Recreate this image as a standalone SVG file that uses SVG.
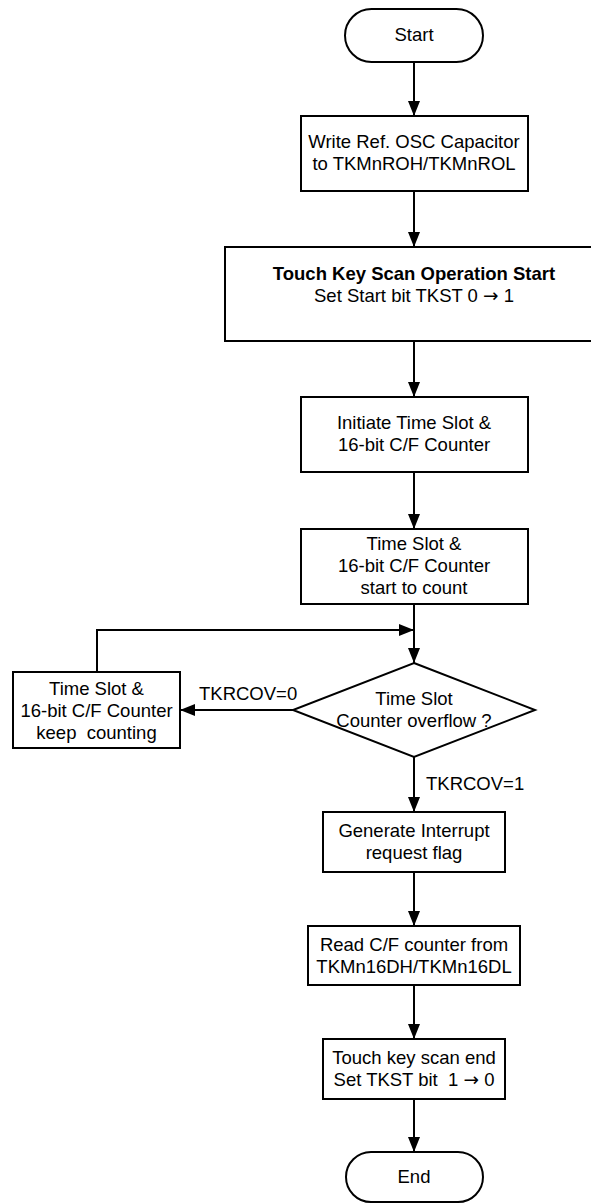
<svg xmlns="http://www.w3.org/2000/svg" width="591" height="1203" viewBox="0 0 591 1203">
<style>
.s{fill:#fff;stroke:#000;stroke-width:2}
.c{fill:none;stroke:#000;stroke-width:2}
text{font-family:"Liberation Sans",Arial,sans-serif;font-size:18.5px;fill:#000;text-anchor:middle;white-space:pre}
.b{font-weight:bold}
.l{text-anchor:start}
.ar{font-family:"DejaVu Sans",sans-serif}
</style>
<defs>
<marker id="ah" markerUnits="userSpaceOnUse" markerWidth="15" markerHeight="12" refX="15" refY="6" orient="auto">
<path d="M0,0 L15,6 L0,12 z" fill="#000"/>
</marker>
</defs>
<rect width="591" height="1203" fill="#fff"/>
<g id="connectors">
<line class="c" x1="414" y1="62" x2="414" y2="116" marker-end="url(#ah)"/>
<line class="c" x1="414" y1="191" x2="414" y2="247" marker-end="url(#ah)"/>
<line class="c" x1="414" y1="341" x2="414" y2="397" marker-end="url(#ah)"/>
<line class="c" x1="414" y1="472" x2="414" y2="529" marker-end="url(#ah)"/>
<line class="c" x1="414" y1="604" x2="414" y2="663" marker-end="url(#ah)"/>
<line class="c" x1="293" y1="710" x2="180" y2="710" marker-end="url(#ah)"/>
<polyline class="c" points="97,672 97,630 414,630" marker-end="url(#ah)"/>
<line class="c" x1="414" y1="757" x2="414" y2="812" marker-end="url(#ah)"/>
<line class="c" x1="414" y1="872" x2="414" y2="926" marker-end="url(#ah)"/>
<line class="c" x1="414" y1="985" x2="414" y2="1039" marker-end="url(#ah)"/>
<line class="c" x1="414" y1="1099" x2="414" y2="1152" marker-end="url(#ah)"/>
<text class="l" x="199" y="700">TKRCOV=0</text>
<text class="l" x="426" y="790">TKRCOV=1</text>
</g>
<g id="start">
<rect class="s" x="345" y="9" width="138" height="53" rx="26.5"/>
<text x="414" y="41">Start</text>
</g>
<g id="write-ref">
<rect class="s" x="301" y="116" width="227" height="75"/>
<text x="414" y="148">Write Ref. OSC Capacitor</text>
<text x="414" y="170">to TKMnROH/TKMnROL</text>
</g>
<g id="scan-start">
<rect class="s" x="225" y="247" width="378" height="94"/>
<text class="b" x="414" y="280">Touch Key Scan Operation Start</text>
<text x="414" y="302">Set Start bit TKST 0 <tspan class="ar">→</tspan> 1</text>
</g>
<g id="initiate">
<rect class="s" x="301" y="397" width="227" height="75"/>
<text x="414" y="429">Initiate Time Slot &amp;</text>
<text x="414" y="451">16-bit C/F Counter</text>
</g>
<g id="start-count">
<rect class="s" x="301" y="529" width="227" height="75"/>
<text x="414" y="550">Time Slot &amp;</text>
<text x="414" y="572">16-bit C/F Counter</text>
<text x="414" y="594">start to count</text>
</g>
<g id="overflow">
<polygon class="s" points="414,663 535,710 414,757 293,710"/>
<text x="414" y="705">Time Slot</text>
<text x="414" y="727">Counter overflow ?</text>
</g>
<g id="keep-counting">
<rect class="s" x="13" y="672" width="167" height="76"/>
<text x="96.5" y="695">Time Slot &amp;</text>
<text x="96.5" y="717">16-bit C/F Counter</text>
<text x="96.5" y="739">keep  counting</text>
</g>
<g id="interrupt">
<rect class="s" x="323" y="812" width="182" height="60"/>
<text x="414" y="837">Generate Interrupt</text>
<text x="414" y="859">request flag</text>
</g>
<g id="read-cf">
<rect class="s" x="308" y="926" width="212" height="59"/>
<text x="414" y="951">Read C/F counter from</text>
<text x="414" y="973">TKMn16DH/TKMn16DL</text>
</g>
<g id="scan-end">
<rect class="s" x="323" y="1039" width="182" height="60"/>
<text x="414" y="1064">Touch key scan end</text>
<text x="414" y="1086">Set TKST bit  1 <tspan class="ar">→</tspan> 0</text>
</g>
<g id="end">
<rect class="s" x="346" y="1152" width="137" height="50" rx="25"/>
<text x="414" y="1183">End</text>
</g>
</svg>
